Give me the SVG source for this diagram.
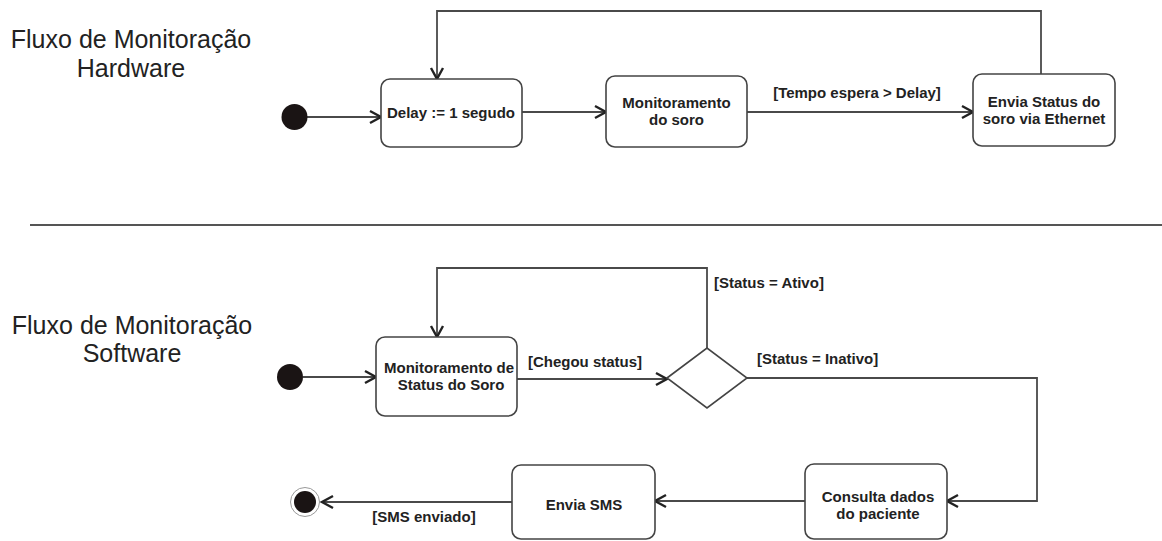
<svg xmlns="http://www.w3.org/2000/svg" width="1162" height="541" viewBox="0 0 1162 541">
<style>
.title{font-family:"Liberation Sans",Arial,sans-serif;font-size:25px;fill:#222;text-anchor:middle}
.lbl{font-family:"Liberation Sans",Arial,sans-serif;font-size:15px;font-weight:bold;fill:#222}
.mid{text-anchor:middle}
.box{fill:#fff;stroke:#444;stroke-width:1.6}
.conn{fill:none;stroke:#4a4a4a;stroke-width:1.8}
</style>
<defs>
<marker id="arr" markerUnits="userSpaceOnUse" markerWidth="16" markerHeight="16" viewBox="0 0 16 16" refX="13" refY="8" orient="auto">
<path d="M2,2 L13,8 L2,14" fill="none" stroke="#222" stroke-width="2.4"/>
</marker>
</defs>
<rect width="1162" height="541" fill="#fff"/>
<g id="titles">
<text class="title" x="131" y="48">Fluxo de Monitoração</text>
<text class="title" x="131" y="77">Hardware</text>
<text class="title" x="132" y="334">Fluxo de Monitoração</text>
<text class="title" x="132" y="362">Software</text>
</g>
<line id="separator" x1="30" y1="225" x2="1162" y2="225" stroke="#555" stroke-width="1.8"/>
<g id="connectors">
<path class="conn" d="M307,117 H381" marker-end="url(#arr)"/>
<path class="conn" d="M522,112 H606" marker-end="url(#arr)"/>
<path class="conn" d="M747,112 H973" marker-end="url(#arr)"/>
<path class="conn" d="M1041,74 V11 H437 V79" marker-end="url(#arr)"/>
<path class="conn" d="M303,377 H376" marker-end="url(#arr)"/>
<path class="conn" d="M517,379 H667" marker-end="url(#arr)"/>
<path class="conn" d="M707,348 V268 H437 V337" marker-end="url(#arr)"/>
<path class="conn" d="M747,378 H1037 V501 H947" marker-end="url(#arr)"/>
<path class="conn" d="M805,501 H655" marker-end="url(#arr)"/>
<path class="conn" d="M512,502 H322" marker-end="url(#arr)"/>
<text class="lbl mid" x="857" y="98">[Tempo espera &gt; Delay]</text>
<text class="lbl mid" x="585" y="367">[Chegou status]</text>
<text class="lbl" x="714" y="288">[Status = Ativo]</text>
<text class="lbl" x="757" y="364">[Status = Inativo]</text>
<text class="lbl mid" x="424" y="522">[SMS enviado]</text>
</g>
<g id="start-hw"><circle cx="294.5" cy="117" r="13" fill="#1a1414"/></g>
<g id="delay">
<rect class="box" x="381" y="79" width="141" height="68" rx="9"/>
<text class="lbl mid" x="451" y="118">Delay := 1 segudo</text>
</g>
<g id="monitoramento-soro">
<rect class="box" x="606" y="76" width="141" height="71" rx="9"/>
<text class="lbl mid" x="676.5" y="108">Monitoramento</text>
<text class="lbl mid" x="676.5" y="125">do soro</text>
</g>
<g id="envia-status">
<rect class="box" x="973" y="74" width="142" height="72" rx="9"/>
<text class="lbl mid" x="1044" y="107">Envia Status do</text>
<text class="lbl mid" x="1044" y="124">soro via Ethernet</text>
</g>
<g id="start-sw"><circle cx="290" cy="377" r="13" fill="#1a1414"/></g>
<g id="monitoramento-status">
<rect class="box" x="376" y="337" width="141" height="79" rx="9"/>
<text class="lbl mid" x="449" y="373">Monitoramento de</text>
<text class="lbl mid" x="451" y="390">Status do Soro</text>
</g>
<g id="decisao">
<polygon points="667,378 707,348 747,378 707,408" fill="#fff" stroke="#444" stroke-width="1.6"/>
</g>
<g id="consulta">
<rect class="box" x="805" y="464" width="142" height="75" rx="9"/>
<text class="lbl mid" x="878" y="502">Consulta dados</text>
<text class="lbl mid" x="878" y="519">do paciente</text>
</g>
<g id="envia-sms">
<rect class="box" x="512" y="465" width="143" height="74" rx="9"/>
<text class="lbl mid" x="584" y="510">Envia SMS</text>
</g>
<g id="end">
<circle cx="305" cy="502" r="14.5" fill="#fff" stroke="#999" stroke-width="1"/>
<circle cx="305" cy="502" r="11" fill="#1a1414"/>
</g>
</svg>
